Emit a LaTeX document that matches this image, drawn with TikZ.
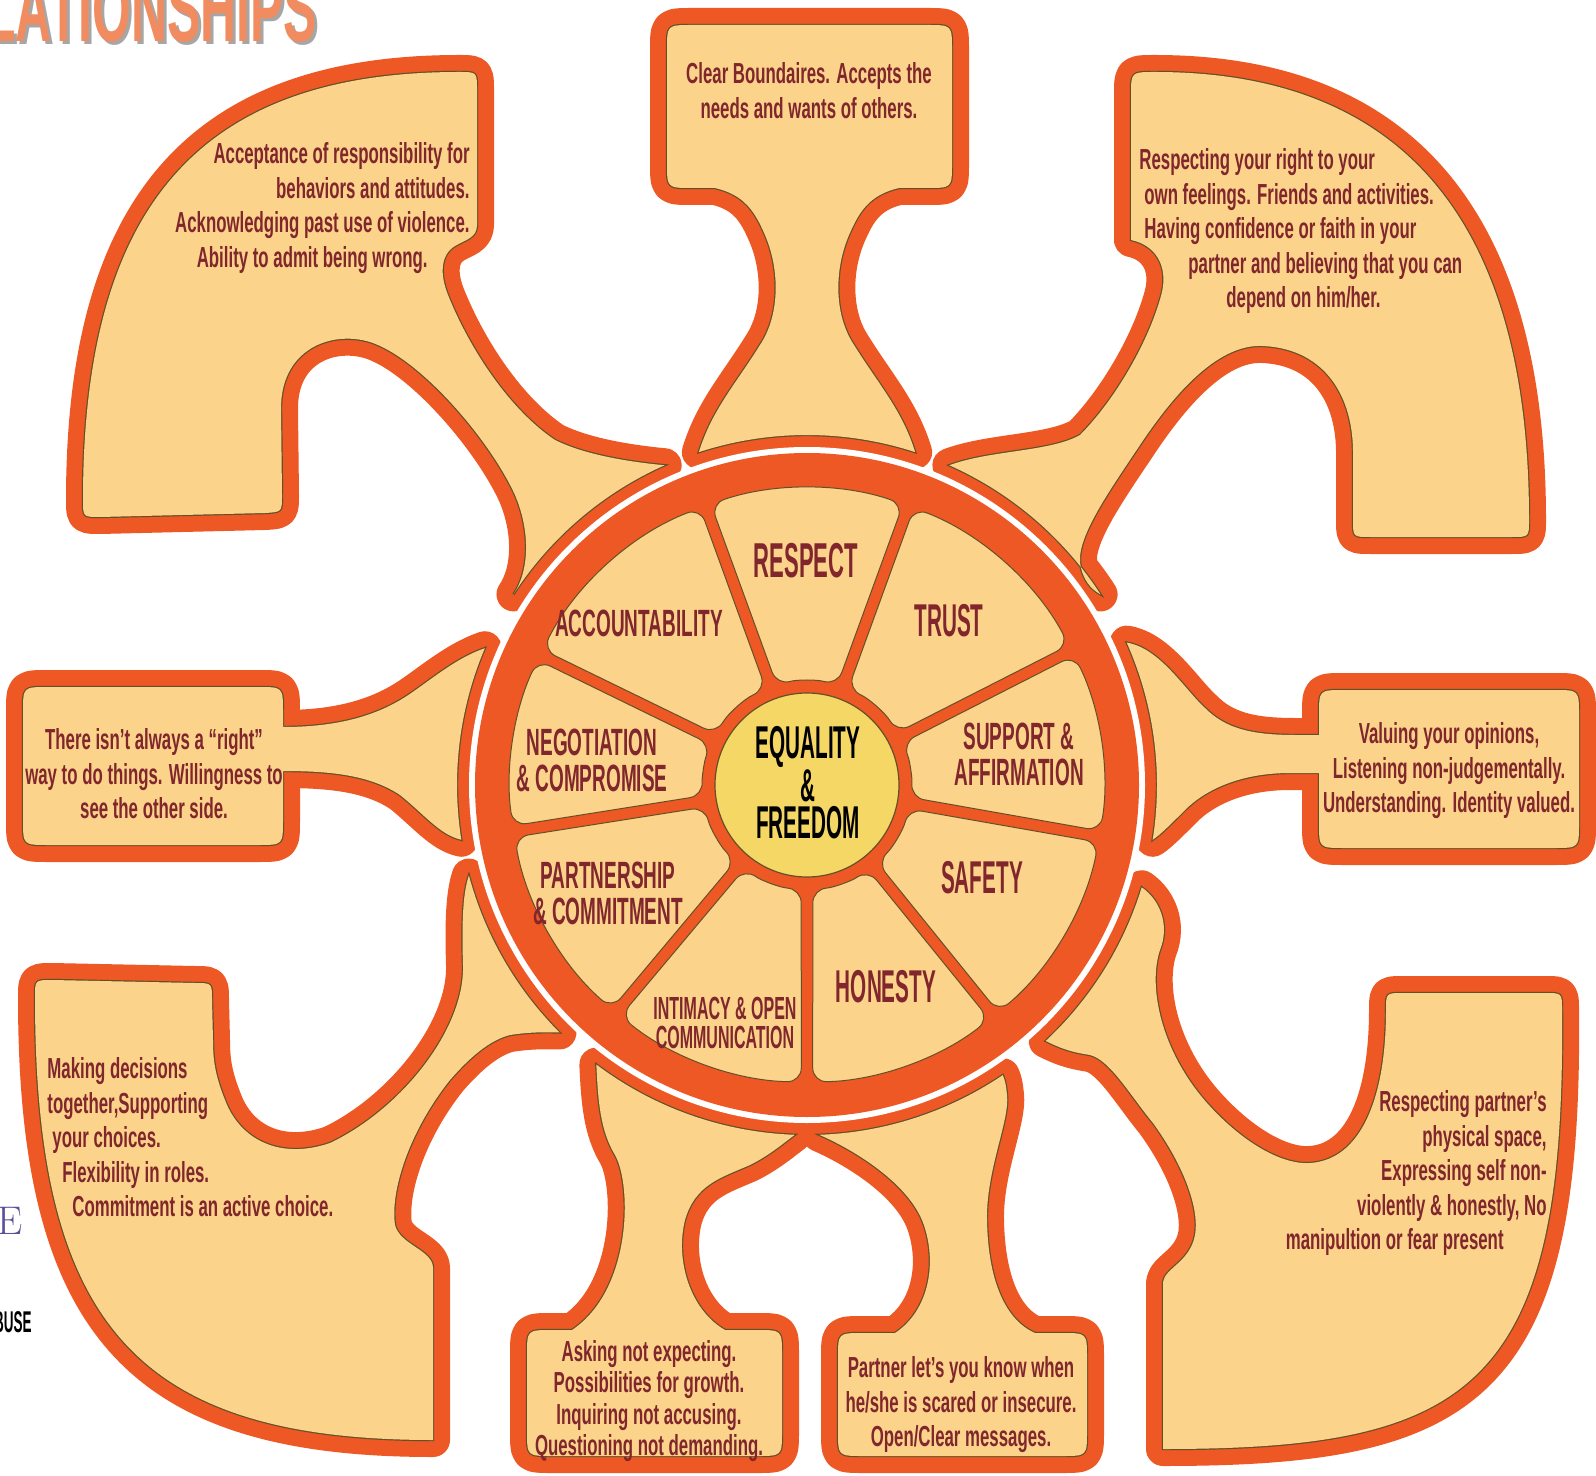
\documentclass[tikz,border=0pt]{standalone}
\usepackage{fontspec}
\newfontfamily\bodyfont{Liberation Sans}[FakeStretch=0.58]
\newfontfamily\headfont{Liberation Sans}[FakeStretch=0.45]
\newfontfamily\headwide{Liberation Sans}[FakeStretch=0.5]
\newfontfamily\titlefont{Liberation Sans}[FakeStretch=0.53]
\definecolor{orangeC}{RGB}{237,88,36}
\definecolor{creamC}{RGB}{252,211,138}
\definecolor{yellowC}{RGB}{245,215,102}
\definecolor{textC}{RGB}{128,38,44}
\definecolor{shadeC}{RGB}{100,80,40}
\definecolor{titleC}{RGB}{240,140,95}
\definecolor{purpleC}{RGB}{90,80,150}

\tikzset{
  arm/.style={fill=creamC,
    preaction={draw=orangeC, line width=17pt, line join=round},
    preaction={draw=shadeC, line width=1.2pt}},
  seg/.style={fill=creamC, draw=shadeC, line width=0.5pt, rounded corners=7pt},
  note/.style={font=\bodyfont\bfseries\fontsize{14.5}{17.3}\selectfont, text=textC, inner sep=0pt},
  headL/.style={font=\headfont\bfseries\fontsize{23}{18.5}\selectfont, text=textC, align=center, inner sep=0pt},
  headM/.style={font=\headwide\bfseries\fontsize{19}{18}\selectfont, text=textC, align=center, inner sep=0pt},
  headS/.style={font=\headwide\bfseries\fontsize{16}{14.5}\selectfont, text=textC, align=center, inner sep=0pt}
}

\begin{document}
\begin{tikzpicture}[x=0.5pt, y=-0.5pt]
\useasboundingbox (0,0) rectangle (1596,1476);
\coordinate (w) at (807,785);

% heading, cut by the page
\node[font=\titlefont\bfseries\fontsize{47}{47}\selectfont, text=black!35, anchor=base east, inner sep=0pt] (titleShade) at (320,45) {LATIONSHIPS};
\node[font=\titlefont\bfseries\fontsize{47}{47}\selectfont, text=titleC, anchor=base east, inner sep=0pt] (title) at (317,42) {LATIONSHIPS};
\node[font=\fontsize{20}{20}\selectfont, text=purpleC, anchor=base west, inner sep=0pt] (edgeE) at (-3,1234) {E};
\node[font=\headfont\bfseries\fontsize{15}{15}\selectfont, anchor=base east, inner sep=0pt] (edgeBuse) at (32,1332) {BUSE};

% top arm
\path[arm] ([shift={(w)}]-108:350)
  .. controls (712,410) and (735,385) .. (760,345)
  .. controls (780,315) and (780,270) .. (765,235)
  .. controls (755,212) and (745,195) .. (715,188)
  -- (692,188) .. controls (667,188) .. (667,163)
  -- (667,50) .. controls (667,25) .. (692,25)
  -- (927,25) .. controls (952,25) .. (952,50)
  -- (952,163) .. controls (952,188) .. (927,188)
  -- (899,188) .. controls (869,195) and (859,212) .. (849,235)
  .. controls (834,270) and (834,315) .. (854,345)
  .. controls (879,385) and (902,410) .. ([shift={(w)}]-72:350)
  arc[start angle=-72, end angle=-108, radius=350] -- cycle;

% top right arm
\path[arm] ([shift={(w)}]-66:350)
  .. controls (990,450) and (1050,452) .. (1080,435)
  .. controls (1115,400) and (1150,340) .. (1162,292)
  .. controls (1168,265) and (1155,245) .. (1131,240)
  -- (1131,95) .. controls (1131,72) .. (1155,72)
  .. controls (1410,72) and (1529,230) .. (1529,520)
  .. controls (1529,537) .. (1512,537)
  -- (1370,537) .. controls (1353,537) .. (1353,520)
  -- (1353,450) .. controls (1352,390) and (1320,348) .. (1262,346)
  .. controls (1215,344) and (1170,400) .. (1140,445)
  .. controls (1110,490) and (1078,535) .. (1080,562)
  .. controls (1082,580) and (1092,590) .. ([shift={(w)}]-33:350)
  arc[start angle=-33, end angle=-66, radius=350] -- cycle;

% right arm
\path[arm] ([shift={(w)}]-24:350)
  .. controls (1160,648) and (1185,690) .. (1205,708)
  .. controls (1225,728) and (1250,735) .. (1295,735)
  -- (1319,735) -- (1319,715) .. controls (1319,690) .. (1344,690)
  -- (1554,690) .. controls (1579,690) .. (1579,715)
  -- (1579,823) .. controls (1579,848) .. (1554,848)
  -- (1344,848) .. controls (1319,848) .. (1319,823)
  -- (1319,773) -- (1290,773)
  .. controls (1240,773) and (1205,790) .. (1185,810)
  .. controls (1170,825) and (1160,835) .. ([shift={(w)}]9:350)
  arc[start angle=9, end angle=-24, radius=350] -- cycle;

% bottom right arm
\path[arm] ([shift={(w)}]17:350)
  .. controls (1160,900) and (1170,925) .. (1160,950)
  .. controls (1148,985) and (1160,1050) .. (1207,1103)
  .. controls (1240,1140) and (1280,1165) .. (1310,1163)
  .. controls (1360,1160) and (1386,1100) .. (1386,1010)
  .. controls (1386,993) .. (1403,993)
  -- (1545,993) .. controls (1562,993) .. (1562,1010)
  .. controls (1566,1390) and (1470,1449) .. (1163,1449)
  -- (1163,1282)
  .. controls (1165,1268) and (1190,1262) .. (1195,1235)
  .. controls (1200,1205) and (1180,1160) .. (1153,1123)
  .. controls (1130,1095) and (1110,1060) .. (1090,1055)
  .. controls (1070,1052) and (1060,1048) .. ([shift={(w)}]47:350)
  arc[start angle=47, end angle=17, radius=350] -- cycle;

% bottom arms
\path[arm] ([shift={(w)}]88:350)
  .. controls (850,1148) and (905,1180) .. (922,1220)
  .. controls (938,1260) and (930,1310) .. (895,1333)
  -- (863,1333) .. controls (838,1333) .. (838,1358)
  -- (838,1431) .. controls (838,1456) .. (863,1456)
  -- (1062,1456) .. controls (1087,1456) .. (1087,1431)
  -- (1087,1358) .. controls (1087,1333) .. (1062,1333)
  -- (1035,1333) .. controls (1005,1320) and (988,1280) .. (987,1220)
  .. controls (986,1170) and (1010,1120) .. (1007,1095)
  .. controls (1006,1085) and (1005,1080) .. ([shift={(w)}]56:350)
  arc[start angle=56, end angle=88, radius=350] -- cycle;
\path[arm] ([shift={(w)}]127:350)
  .. controls (598,1100) and (600,1130) .. (615,1155)
  .. controls (632,1185) and (632,1290) .. (572,1330)
  -- (552,1330) .. controls (527,1330) .. (527,1355)
  -- (527,1431) .. controls (527,1456) .. (552,1456)
  -- (757,1456) .. controls (782,1456) .. (782,1431)
  -- (782,1355) .. controls (782,1330) .. (757,1330)
  -- (725,1330) .. controls (690,1310) and (675,1260) .. (685,1220)
  .. controls (695,1185) and (720,1178) .. (750,1165)
  .. controls (770,1155) and (785,1142) .. ([shift={(w)}]92:350)
  arc[start angle=92, end angle=127, radius=350] -- cycle;

% bottom left arm
\path[arm] ([shift={(w)}]165:350)
  .. controls (462,895) and (462,930) .. (463,965)
  .. controls (465,1030) and (400,1110) .. (330,1143)
  .. controls (280,1160) and (240,1140) .. (225,1100)
  .. controls (215,1075) and (213,1060) .. (213,1040)
  -- (212,1000) .. controls (212,983) .. (195,983)
  -- (52,980) .. controls (35,980) .. (35,997)
  .. controls (35,1322) and (135,1440) .. (433,1440)
  -- (433,1268)
  .. controls (433,1250) and (400,1245) .. (395,1225)
  .. controls (390,1190) and (410,1130) .. (450,1080)
  .. controls (470,1057) and (490,1040) .. (510,1035)
  .. controls (530,1032) and (545,1032) .. ([shift={(w)}]135:350)
  arc[start angle=135, end angle=165, radius=350] -- cycle;

% left arm
\path[arm] ([shift={(w)}]203:350)
  .. controls (450,660) and (420,690) .. (395,703)
  .. controls (360,722) and (320,727) .. (283,727)
  -- (283,712) .. controls (283,687) .. (258,687)
  -- (48,687) .. controls (23,687) .. (23,712)
  -- (23,820) .. controls (23,845) .. (48,845)
  -- (258,845) .. controls (283,845) .. (283,820)
  -- (283,771) .. controls (330,771) and (370,775) .. (400,795)
  .. controls (425,815) and (440,835) .. ([shift={(w)}]171:350)
  arc[start angle=171, end angle=203, radius=350] -- cycle;

% top left arm
\path[arm] ([shift={(w)}]-114:350)
  .. controls (630,462) and (585,455) .. (555,440)
  .. controls (510,410) and (470,350) .. (448,295)
  .. controls (440,275) and (440,255) .. (455,246)
  .. controls (465,240) and (477,238) .. (477,225)
  -- (477,90) .. controls (477,72) .. (459,72)
  .. controls (201,72) and (83,205) .. (83,500)
  .. controls (83,517) .. (100,517)
  -- (265,513) .. controls (282,512) .. (282,495)
  -- (281,410) .. controls (280,350) and (330,330) .. (370,342)
  .. controls (420,358) and (490,440) .. (515,495)
  .. controls (530,530) and (530,570) .. ([shift={(w)}]-147:350)
  arc[start angle=-147, end angle=-114, radius=350] -- cycle;

% wheel
\begin{scope}[shift={(w)}, yscale=-1]
  \fill[white] (0,0) circle[radius=338];
  \fill[orangeC] (0,0) circle[radius=332];
  \foreach \a/\b in {70/110, 27/70, -10/27, -51/-10, -90/-51, -130/-90, 189/230, 154/189, 110/154} {
    \path[seg] (\a+1.1:297) arc[start angle=\a+1.1, end angle=\b-1.1, radius=297]
      -- (\b-3.2:104) arc[start angle=\b-3.2, end angle=\a+3.2, radius=104] -- cycle;
  }
  \path[fill=yellowC, draw=shadeC, line width=0.6pt] (0,0) circle[radius=92];
\end{scope}

% wheel labels
\node[headL, font=\headfont\bfseries\fontsize{24.5}{18}\selectfont] (hRespect) at (806,561) {RESPECT};
\node[headL] (hTrust) at (949,621) {TRUST};
\node[headM] (hSupport) at (1019,754) {SUPPORT \&\\AFFIRMATION};
\node[headL] (hSafety) at (982,878) {SAFETY};
\node[headL] (hHonesty) at (886,987) {HONESTY};
\node[headS] (hIntimacy) at (725,1023) {INTIMACY \& OPEN\\COMMUNICATION};
\node[headM] (hPartner) at (608,893) {PARTNERSHIP\\\& COMMITMENT};
\node[headM] (hNegot) at (592,760) {NEGOTIATION\\\& COMPROMISE};
\node[headM] (hAccount) at (639,623) {ACCOUNTABILITY};
\node[headL, text=black] (hCentre) at (808,783) {EQUALITY\\\&\\FREEDOM};

% arm texts
\node[note, align=center, anchor=north] (tRespect) at (809,62) {Clear Boundaires. Accepts the\\needs and wants of others.};
\node[note, align=right, anchor=north east] (tAccount) at (470,142) {Acceptance of responsibility for\\behaviors and attitudes.\\Acknowledging past use of violence.\\Ability to admit being wrong.\hspace*{21pt}};
\node[note, align=left, anchor=north west] (tTrust) at (1139,148) {Respecting your right to your\\\hspace*{2.5pt}own feelings. Friends and activities.\\\hspace*{2.5pt}Having confidence or faith in your\\\hspace*{24.5pt}partner and believing that you can\\\hspace*{43.5pt}depend on him/her.};
\node[note, align=center, anchor=north] (tSupport) at (1449,722) {Valuing your opinions,\\Listening non-judgementally.\\Understanding. Identity valued.};
\node[note, align=center, anchor=north] (tNegot) at (154,728) {There isn’t always a “right”\\way to do things. Willingness to\\see the other side.};
\node[note, align=left, anchor=north west] (tPartner) at (47,1057) {Making decisions\\together,Supporting\\\hspace*{2.5pt}your choices.\\\hspace*{7.5pt}Flexibility in roles.\\\hspace*{12.5pt}Commitment is an active choice.};
\node[note, align=right, anchor=north east] (tSafety) at (1547,1090) {Respecting partner’s\\physical space,\hspace*{3.5pt}\\Expressing self non-\hspace*{7pt}\\violently \& honestly, No\hspace*{14pt}\\manipultion or fear present\hspace*{21.5pt}};
\node[note, font=\bodyfont\bfseries\fontsize{14.5}{15.75}\selectfont, align=center, anchor=north] (tIntimacy) at (649,1340) {Asking not expecting.\\Possibilities for growth.\\Inquiring not accusing.\\Questioning not demanding.};
\node[note, align=center, anchor=north] (tHonesty) at (961,1356) {Partner let’s you know when\\he/she is scared or insecure.\\Open/Clear messages.};
\end{tikzpicture}
\end{document}
